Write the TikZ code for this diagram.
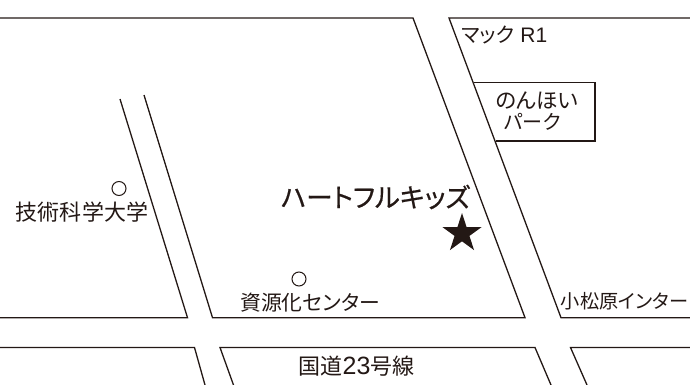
\documentclass[tikz,border=0pt]{standalone}
\usepackage{fontspec}
\setmainfont[RawFeature={+palt}]{Noto Sans CJK JP}
\newfontfamily\latinf{Liberation Sans}
\newfontfamily\boldish[FakeBold=0.5,RawFeature={+palt}]{Noto Sans CJK JP}
\usetikzlibrary{shapes.geometric}
\definecolor{ink}{HTML}{231815}
\tikzset{
  road/.style={draw=ink,line width=1.3pt,line join=miter},
  lbl/.style={inner sep=0pt,text=ink,font=\fontsize{#1}{#1}\selectfont,anchor=center,align=center},
  spot/.style={circle,draw=ink,line width=1pt,minimum size=14pt,inner sep=0pt}
}
\begin{document}
\begin{tikzpicture}[x=1pt,y=-1pt]
\useasboundingbox (0,0) rectangle (690,385);
% blocks
\draw[road] (0,18) -- (413,18) -- (525,317.7) -- (212.5,317.7) -- (144,95);
\draw[road] (120,99) -- (187.5,317.7) -- (0,317.7);
\draw[road] (690,18) -- (449,18) -- (561,317.7) -- (690,317.7);
\draw[road] (474,82.7) -- (595,82.7) -- (595,141) -- (495.5,141);
\draw[road] (0,347.5) -- (194.5,347.5) -- (205,385);
\draw[road] (233.5,385) -- (220,347.5) -- (535,347.5) -- (551,385);
\draw[road] (587,385) -- (570.5,347.5) -- (690,347.5);
% spots
\node[spot] (s1) at (119,188.5) {};
\node[spot] (s2) at (299,279) {};
\node[star,star points=5,star point ratio=2.618,fill=ink,inner sep=0pt,minimum size=41pt] (st) at (462,233.5) {};
% labels
\node[lbl=22] (t1) at (82,212.5) {技術科学大学};
\node[lbl=20.8] (t2) at (310,303) {資源化センター};
\node[lbl=26.5] (t3) at (375.5,197) {\boldish ハートフルキッズ};
\node[lbl=19.2] (t4) at (624.5,301) {小松原インター};
\node[lbl=22] (t5) at (356.5,366) {国道{\latinf\fontsize{25}{25}\selectfont 23}号線};
\node[lbl=20.5] (t6) at (504.5,35) {マック{\latinf\fontsize{21}{21}\selectfont\ R1}};
\node[lbl=21.5] (t7) at (537,101) {のんほい};
\node[lbl=20] (t8) at (532.5,122) {パーク};
\end{tikzpicture}
\end{document}
